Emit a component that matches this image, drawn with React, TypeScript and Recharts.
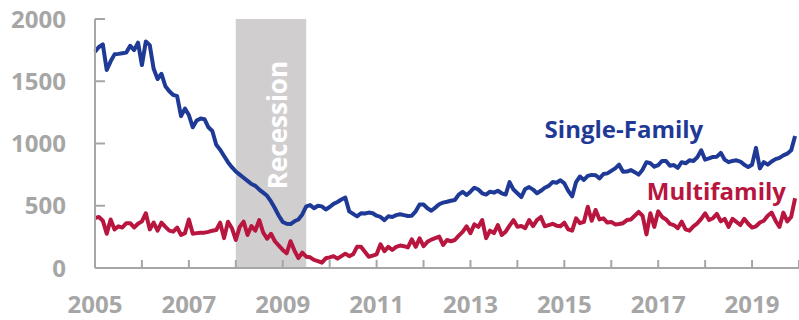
import {
  LineChart,
  Line,
  XAxis,
  YAxis,
  ReferenceArea,
  ReferenceDot,
} from "recharts";

// monthly starts, thousands of units (SAAR), Jan 2005 - Dec 2019
const firstYear = 2005;
const yearTicks = [
  2005, 2006, 2007, 2008, 2009, 2010, 2011, 2012, 2013, 2014, 2015, 2016,
  2017, 2018, 2019, 2020,
];
const labelledYears = [2005, 2007, 2009, 2011, 2013, 2015, 2017, 2019];
const valueTicks = [0, 500, 1000, 1500, 2000];

const singleFamily = [
  1737, 1775, 1796, 1590, 1660, 1716, 1720, 1725, 1730, 1785, 1750, 1810, // 2005
  1630, 1820, 1790, 1600, 1518, 1560, 1460, 1420, 1390, 1380, 1220, 1280, // 2006
  1229, 1130, 1185, 1200, 1195, 1130, 1100, 990, 950, 900, 850, 810, // 2007
  775, 750, 725, 700, 675, 660, 630, 605, 580, 535, 480, 420, // 2008
  370, 355, 353, 375, 390, 430, 495, 505, 480, 500, 495, 470, // 2009
  490, 515, 530, 550, 565, 455, 435, 415, 440, 438, 445, 440, // 2010
  420, 410, 385, 415, 410, 425, 432, 425, 418, 420, 455, 510, // 2011
  510, 480, 460, 485, 512, 525, 532, 540, 546, 590, 612, 586, // 2012
  613, 645, 630, 600, 590, 613, 605, 620, 600, 590, 690, 630, // 2013
  600, 570, 635, 650, 630, 600, 620, 645, 660, 690, 685, 705, // 2014
  680, 620, 575, 690, 735, 707, 740, 748, 745, 720, 755, 760, // 2015
  780, 800, 830, 773, 775, 787, 770, 750, 790, 850, 841, 814, // 2016
  827, 860, 860, 822, 827, 805, 850, 841, 865, 860, 890, 945, // 2017
  870, 880, 892, 894, 925, 870, 850, 860, 865, 855, 830, 812, // 2018
  830, 965, 800, 850, 830, 855, 875, 885, 905, 918, 945, 1060, // 2019
];

const multifamily = [
  400, 410, 380, 275, 390, 310, 335, 325, 360, 360, 325, 355, // 2005
  375, 440, 310, 365, 300, 364, 330, 300, 292, 325, 265, 280, // 2006
  390, 275, 280, 284, 284, 290, 300, 305, 364, 240, 372, 320, // 2007
  225, 330, 372, 265, 337, 300, 385, 285, 235, 275, 215, 180, // 2008
  145, 118, 215, 140, 80, 123, 91, 86, 65, 55, 43, 78, // 2009
  85, 95, 75, 95, 115, 95, 110, 170, 170, 130, 90, 100, // 2010
  110, 190, 135, 170, 145, 170, 180, 175, 165, 230, 170, 238, // 2011
  175, 210, 228, 240, 252, 185, 225, 215, 225, 260, 290, 335, // 2012
  280, 350, 330, 385, 240, 300, 280, 345, 265, 292, 340, 385, // 2013
  332, 337, 320, 385, 337, 385, 410, 335, 345, 355, 340, 335, // 2014
  364, 310, 300, 399, 360, 370, 492, 380, 466, 390, 399, 365, // 2015
  370, 350, 353, 360, 385, 390, 420, 450, 420, 270, 440, 330, // 2016
  455, 410, 390, 355, 345, 320, 372, 310, 300, 335, 359, 395, // 2017
  439, 385, 400, 434, 375, 395, 330, 395, 370, 345, 395, 355, // 2018
  325, 335, 365, 380, 420, 445, 380, 330, 445, 375, 410, 560, // 2019
];

const recessionStart = 2008;
const recessionEnd = 2009.5;

const BLUE = "#1F3A96";
const RED = "#B8153F";
const GREY = "#A6A6A6";

const data = singleFamily.map((sf, i) => ({
  t: firstYear + i / 12,
  sf,
  mf: multifamily[i],
}));

const tickFont = { fontSize: 24, fontWeight: 700, fill: GREY };

function RecessionLabel({ viewBox }: any) {
  const x = viewBox.x + viewBox.width * 0.725;
  const y = viewBox.y + viewBox.height * 0.426;
  return (
    <text
      x={x}
      y={y}
      transform={`rotate(-90 ${x} ${y})`}
      textAnchor="middle"
      fill="#FFFFFF"
      fontSize={26}
      fontWeight={700}
    >
      Recession
    </text>
  );
}

export default function App() {
  return (
    <div
      style={{
        position: "absolute",
        left: 0,
        top: 0,
        fontFamily: "'Open Sans', sans-serif",
      }}
    >
      <LineChart
        width={799}
        height={320}
        data={data}
        margin={{ top: 19, right: 0, bottom: 0, left: 0 }}
      >
        <ReferenceArea
          x1={recessionStart}
          x2={recessionEnd}
          y1={0}
          y2={2000}
          fill="#D0CECE"
          fillOpacity={1}
          stroke="none"
          label={<RecessionLabel />}
        />
        <XAxis
          type="number"
          dataKey="t"
          domain={[2005, 2020]}
          ticks={yearTicks}
          interval={0}
          height={52}
          tickSize={-8}
          tickMargin={36}
          tick={tickFont}
          tickFormatter={(v: number) =>
            labelledYears.includes(v) ? String(v) : ""
          }
          axisLine={{ stroke: GREY, strokeWidth: 2 }}
          tickLine={{ stroke: GREY, strokeWidth: 2 }}
        />
        <YAxis
          domain={[0, 2000]}
          ticks={valueTicks}
          interval={0}
          width={95}
          tickSize={-10}
          tickMargin={39}
          tick={tickFont}
          axisLine={{ stroke: GREY, strokeWidth: 2 }}
          tickLine={{ stroke: GREY, strokeWidth: 2 }}
        />
        <Line
          dataKey="mf"
          stroke={RED}
          strokeWidth={4}
          dot={false}
          type="linear"
          strokeLinejoin="round"
          isAnimationActive={false}
        />
        <Line
          dataKey="sf"
          stroke={BLUE}
          strokeWidth={4}
          dot={false}
          type="linear"
          strokeLinejoin="round"
          isAnimationActive={false}
        />
        <ReferenceDot
          x={2016.27}
          y={1116}
          r={0}
          fill="none"
          stroke="none"
          label={{
            value: "Single-Family",
            position: "center",
            fill: BLUE,
            fontSize: 24,
            fontWeight: 700,
          }}
        />
        <ReferenceDot
          x={2018.24}
          y={618}
          r={0}
          fill="none"
          stroke="none"
          label={{
            value: "Multifamily",
            position: "center",
            fill: RED,
            fontSize: 24,
            fontWeight: 700,
          }}
        />
      </LineChart>
    </div>
  );
}
